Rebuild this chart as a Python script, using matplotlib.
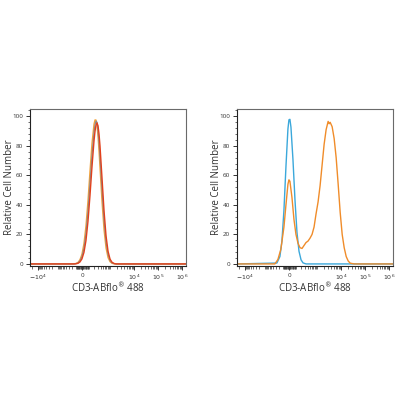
import numpy as np
import matplotlib
matplotlib.use("Agg")
import matplotlib.pyplot as plt
from matplotlib.ticker import FixedLocator, MultipleLocator

plt.rcParams['font.family'] = ['Open Sans', 'DejaVu Sans']

# ---- data: left panel (three overlaid histograms) ----
left_x = [-24000, -145, -102, -65, -32, 0, 27, 55, 85, 118, 156, 200, 224, 250, 279,
          310, 344, 381, 467, 570, 693, 842, 1022, 1240, 1505, 1825, 1400000]
left_orange = [0, 0.1, 0.3, 1.0, 2.8, 6.5, 13.7, 25.6, 42.5, 62.5, 81.7, 94.8, 97.6, 97.5, 93.7,
               86.5, 76.7, 65.4, 42.1, 23.1, 10.8, 4.3, 1.5, 0.4, 0.1, 0, 0]
left_grey = [0, 0, 0.2, 0.7, 2.0, 4.9, 10.5, 20.5, 35.5, 54.5, 74.0, 89.5, 94.5, 96.8, 96.0,
             90.5, 82.5, 72.5, 50.0, 29.5, 14.8, 6.4, 2.3, 0.7, 0.2, 0, 0]
left_red = [0, 0, 0.1, 0.4, 1.3, 3.4, 7.8, 15.8, 28.7, 46.1, 65.9, 83.6, 90.0, 94.1, 95.5,
            93.6, 88.1, 79.8, 57.9, 35.8, 18.9, 8.5, 3.2, 1.1, 0.3, 0, 0]

# ---- data: right panel ----
blue_x = [-24000, -253, -168, -122, -83, -48, -16, 0, 13, 27, 55, 85, 118, 156, 200, 250, 344, 1400000]
blue_y = [0, 0.6, 5.0, 15.5, 36.4, 66.0, 91.5, 97.7, 98.0, 92.7, 70.7, 43.5, 21.5, 8.6, 2.8, 0.7, 0, 0]

orange_x = [-24000, -326, -222, -145, -83, -48, -16, 0, 13, 41, 70, 101, 137, 177, 224, 279,
            344, 422, 516, 628, 764, 928, 1126, 1366, 1658, 2010, 2436, 2953, 3250, 3577,
            4334, 5250, 6360, 7705, 9335, 11310, 13700, 16600, 20100, 24360, 35800, 1400000]
orange_y = [0, 0, 3, 10, 25, 40, 54, 57, 56, 45, 30, 20, 14, 11, 10.5, 12.5,
            14.5, 15.5, 17.5, 20, 25, 34, 42, 53, 67, 81, 91, 96.6, 95.0, 96.0,
            93, 85, 72, 54, 35, 20, 11, 5, 2, 0.5, 0, 0]

major_ticks = [-1e4, 0, 1e4, 1e5, 1e6]
major_labels = [r'$-10^4$', '0', r'$10^4$', r'$10^5$', r'$10^6$']
xlabel_text = r'CD3-ABflo$^{®}$ 488'
ylabel_text = 'Relative Cell Number'

W = 140.0
K = 0.85


def fwd(x):
    x = np.asarray(x, dtype=float)
    return np.where(x >= 0, np.arcsinh(x / W), K * np.arcsinh(x / W))


def inv(u):
    u = np.asarray(u, dtype=float)
    return np.where(u >= 0, W * np.sinh(u), W * np.sinh(u / K))


minor = []
for n in range(1, 6):
    for k in range(1, 10):
        for s in (1, -1):
            v = s * k * 10 ** n
            if -2.4e4 < v < 1.45e6:
                minor.append(v)

fig = plt.figure(figsize=(4, 4), dpi=100)
ax1 = fig.add_axes([0.075, 0.335, 0.39, 0.3925])
ax2 = fig.add_axes([0.5925, 0.335, 0.39, 0.3925])

ax1.plot(left_x, left_orange, color='#F5A33A', lw=1.0)
ax1.plot(left_x, left_grey, color='#8C8C8C', lw=0.9)
ax1.plot(left_x, left_red, color='#E2401C', lw=1.0)

ax2.plot(blue_x, blue_y, color='#3BA8DB', lw=1.0)
ax2.plot(orange_x, orange_y, color='#F08C2A', lw=1.0)

for ax in (ax1, ax2):
    ax.set_xscale('function', functions=(fwd, inv))
    ax.set_xlim(-24000, 1.45e6)
    ax.set_ylim(-1.4, 105)
    ax.xaxis.set_major_locator(FixedLocator(major_ticks))
    ax.set_xticklabels(major_labels)
    ax.xaxis.set_minor_locator(FixedLocator(minor))
    ax.yaxis.set_major_locator(MultipleLocator(20))
    ax.yaxis.set_minor_locator(MultipleLocator(4))
    ax.tick_params(axis='both', which='major', length=3, width=0.7, labelsize=4.5,
                   colors='#333333', pad=2)
    ax.tick_params(axis='both', which='minor', length=1.8, width=0.5, colors='#333333')
    for sp in ax.spines.values():
        sp.set_color('#6a6a6a')
        sp.set_linewidth(0.8)
    ax.spines['left'].set_color('#222222')
    ax.spines['bottom'].set_color('#222222')
    ax.set_xlabel(xlabel_text, fontsize=7, color='#333333')
    ax.set_ylabel(ylabel_text, fontsize=7, color='#333333')
    ax.xaxis.set_label_coords(0.5, -0.095)
    ax.yaxis.set_label_coords(-0.095, 0.5)

fig.savefig('out.png', dpi=100)
